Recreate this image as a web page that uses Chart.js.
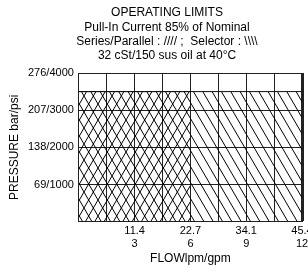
<!DOCTYPE html>
<html>
<head>
<meta charset="utf-8">
<script src="https://cdn.jsdelivr.net/npm/chart.js@4/dist/chart.umd.min.js"></script>
<style>
  html, body { margin: 0; padding: 0; background: #fff; }
  #chart { display: block; }
</style>
</head>
<body>
<canvas id="chart" width="308" height="271"></canvas>
<script>
// titulo (4 lineas)
var titleLines = [
  "OPERATING LIMITS",
  "Pull-In Current 85% of Nominal",
  "Series/Parallel : //// ;  Selector : \\\\\\\\",
  "32 cSt/150 sus oil at 40\u00B0C"
];

// zonas de operacion (gpm / psi)
var selectorFlow = [0, 12];
var selectorPsi = [3500, 3500];
var seriesFlow = [0, 6];
var seriesPsi = [3500, 3500];

// etiquetas de ejes
var gpmTicks = [3, 6, 9, 12];
var lpmLabels = ["11.4", "22.7", "34.1", "45.4"];
var psiTicks = [1000, 2000, 3000, 4000];
var barLabels = ["69", "138", "207", "276"];

var fontFam = "'Liberation Sans', Arial, sans-serif";

// patron de rayas empinadas
function makeHatch(dir) {
  var w = 28, h = 48;
  var c = document.createElement("canvas");
  c.width = w; c.height = h;
  var g = c.getContext("2d");
  g.strokeStyle = "#000";
  g.lineWidth = 1;
  for (var k = -3; k < 6; k++) {
    var x0 = k * w / 3;
    g.beginPath();
    if (dir == "back") {
      g.moveTo(x0, 0); g.lineTo(x0 + w, h);
    } else {
      g.moveTo(x0, h); g.lineTo(x0 + w, 0);
    }
    g.stroke();
  }
  return g.createPattern(c, "repeat");
}

function toPoints(xs, ys) {
  var pts = [];
  for (var i = 0; i < xs.length; i++) pts.push({x: xs[i], y: ys[i]});
  return pts;
}

// titulo dibujado a mano para poder centrarlo como el original
var titlePlugin = {
  id: "limitsTitle",
  afterDraw: function(chart) {
    var ctx = chart.ctx;
    ctx.save();
    ctx.fillStyle = "#000";
    ctx.font = "12px " + fontFam;
    ctx.textAlign = "center";
    ctx.textBaseline = "middle";
    for (var i = 0; i < titleLines.length; i++) {
      ctx.fillText(titleLines[i], 167, 13 + i * 14.3);
    }
    ctx.restore();
  }
};

var chartEl = document.getElementById("chart");
var limitsChart = new Chart(chartEl, {
  type: "scatter",
  data: {
    datasets: [{
      label: "Selector",
      data: toPoints(selectorFlow, selectorPsi),
      showLine: true,
      fill: "origin",
      backgroundColor: makeHatch("back"),
      borderColor: "#111",
      borderWidth: 1,
      pointRadius: 0
    },
    {
      label: "Series/Parallel",
      data: toPoints(seriesFlow, seriesPsi),
      showLine: true,
      fill: "origin",
      backgroundColor: makeHatch("fwd"),
      borderColor: "#111",
      borderWidth: 1,
      pointRadius: 0
    }]
  },
  options: {
    responsive: false,
    animation: false,
    layout: { padding: { top: 73, right: 6, bottom: 6, left: 9 } },
    plugins: {
      legend: { display: false },
      tooltip: { enabled: false },
      title: { display: false }
    },
    scales: {
      x: {
        type: "linear",
        min: 0,
        max: 12,
        // que la etiqueta 45.4 se salga por la derecha como en el original
        afterFit: function(scale) { scale.paddingRight = 0; scale.paddingLeft = 0; },
        grid: {
          color: "#222",
          drawTicks: false,
          lineWidth: function(ctx) { return ctx.tick && ctx.tick.value == 12 ? 3 : 1; }
        },
        border: { color: "#222" },
        ticks: {
          stepSize: 1.5,
          autoSkip: false,
          maxRotation: 0,
          padding: 3,
          color: "#000",
          font: { family: fontFam, size: 11, lineHeight: 1.15 },
          callback: function(v) {
            var i = gpmTicks.indexOf(v);
            return i < 0 ? "" : [lpmLabels[i], String(gpmTicks[i])];
          }
        },
        title: {
          display: true,
          text: "FLOWlpm/gpm",
          color: "#000",
          font: { family: fontFam, size: 12, lineHeight: 1 },
          padding: { top: 0, bottom: 0 }
        }
      },
      y: {
        min: 0,
        max: 4000,
        grid: { color: "#222", drawTicks: false },
        border: { color: "#222" },
        ticks: {
          stepSize: 1000,
          padding: 5,
          color: "#000",
          font: { family: fontFam, size: 11 },
          callback: function(v) {
            var i = psiTicks.indexOf(v);
            return i < 0 ? "" : barLabels[i] + "/" + psiTicks[i];
          }
        },
        title: {
          display: true,
          text: "PRESSURE bar/psi",
          color: "#000",
          font: { family: fontFam, size: 12, lineHeight: 1 },
          padding: { top: 0, bottom: 2 }
        }
      }
    }
  },
  plugins: [titlePlugin]
});
</script>
</body>
</html>
